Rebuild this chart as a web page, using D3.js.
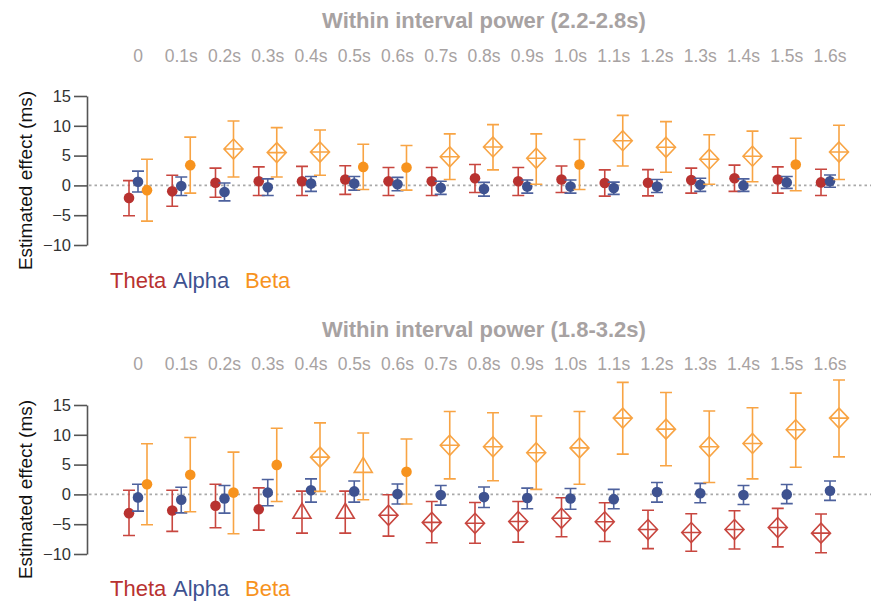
<!DOCTYPE html>
<html>
<head>
<meta charset="utf-8">
<script src="https://cdn.jsdelivr.net/npm/d3@7"></script>
<style>
  html, body { margin: 0; padding: 0; background: #fff; }
  svg { display: block; font-family: "Liberation Sans", Arial, Helvetica, sans-serif; }
</style>
</head>
<body>
<svg id="chart" width="871" height="603"></svg>
<script>
// Time lags (categories along the top of each panel)
const lags = ["0", "0.1s", "0.2s", "0.3s", "0.4s", "0.5s", "0.6s", "0.7s", "0.8s",
              "0.9s", "1.0s", "1.1s", "1.2s", "1.3s", "1.4s", "1.5s", "1.6s"];
const yTicks = [-10, -5, 0, 5, 10, 15];
const bands = ["Theta", "Alpha", "Beta"];
const panelTitles = ["Within interval power (2.2-2.8s)", "Within interval power (1.8-3.2s)"];

// Panel 1: 2.2-2.8 s window. c = n.s. (filled circle), d = significant (open diamond), t = trend (open triangle)
const thetaMeanA = [-2.1, -1.0, 0.45, 0.7, 0.7, 1.0, 0.7, 0.7, 1.2, 0.7, 1.0, 0.4, 0.45, 0.9, 1.2, 1.0, 0.5];
const thetaLoA   = [-5.1, -3.5, -2.0, -1.7, -1.7, -1.5, -1.7, -1.7, -1.2, -1.7, -1.2, -1.8, -1.75, -1.3, -1.0, -1.3, -1.7];
const thetaHiA   = [0.8, 1.7, 2.9, 3.1, 3.2, 3.3, 3.0, 3.0, 3.5, 3.0, 3.25, 2.6, 2.65, 2.9, 3.4, 3.1, 2.7];
const thetaSymA  = ["c","c","c","c","c","c","c","c","c","c","c","c","c","c","c","c","c"];

const alphaMeanA = [0.6, -0.1, -1.1, -0.3, 0.3, 0.3, 0.2, -0.4, -0.6, -0.2, -0.2, -0.45, -0.2, 0.1, 0.0, 0.5, 0.7];
const alphaLoA   = [-1.1, -1.7, -2.6, -1.7, -1.0, -0.8, -0.9, -1.5, -1.8, -1.3, -1.3, -1.5, -1.2, -1.0, -1.0, -0.5, -0.3];
const alphaHiA   = [2.4, 1.4, 0.4, 1.1, 1.5, 1.5, 1.35, 0.7, 0.5, 0.9, 0.9, 0.55, 1.0, 1.2, 1.1, 1.5, 1.75];
const alphaSymA  = ["c","c","c","c","c","c","c","c","c","c","c","c","c","c","c","c","c"];

const betaMeanA  = [-0.8, 3.4, 6.1, 5.5, 5.6, 3.1, 3.0, 4.8, 6.45, 4.55, 3.5, 7.5, 6.4, 4.4, 4.9, 3.5, 5.6];
const betaLoA    = [-6.0, -1.3, 1.4, 1.4, 1.7, -0.7, -0.8, 1.0, 2.6, 0.2, -0.7, 3.25, 2.2, 0.2, 0.6, -0.9, 1.0];
const betaHiA    = [4.4, 8.1, 10.8, 9.7, 9.3, 6.9, 6.7, 8.65, 10.2, 8.65, 7.7, 11.75, 10.7, 8.5, 9.1, 7.9, 10.1];
const betaSymA   = ["c","c","d","d","d","c","c","d","d","d","c","d","d","d","d","c","d"];

// Panel 2: 1.8-3.2 s window
const thetaMeanB = [-3.15, -2.7, -1.9, -2.5, -3.0, -3.0, -3.5, -4.7, -4.85, -4.55, -4.0, -4.6, -5.9, -6.4, -5.9, -5.55, -6.5];
const thetaLoB   = [-6.9, -6.2, -5.6, -6.0, -6.5, -6.5, -7.0, -8.1, -8.2, -8.0, -7.1, -7.9, -9.1, -9.55, -9.15, -8.8, -9.8];
const thetaHiB   = [0.7, 0.7, 1.7, 1.1, 0.55, 0.55, -0.05, -1.2, -1.35, -1.2, -0.55, -1.4, -2.65, -3.25, -2.75, -2.35, -3.3];
const thetaSymB  = ["c","c","c","c","t","t","d","d","d","d","d","d","d","d","d","d","d"];

const alphaMeanB = [-0.5, -0.9, -0.7, 0.3, 0.7, 0.5, 0.05, -0.1, -0.45, -0.6, -0.7, -0.8, 0.4, 0.2, -0.1, 0.0, 0.6];
const alphaLoB   = [-2.8, -3.1, -3.15, -1.9, -1.3, -1.3, -1.6, -1.8, -2.2, -2.4, -2.5, -2.4, -1.3, -1.4, -1.7, -1.55, -1.0];
const alphaHiB   = [1.7, 1.2, 1.5, 2.5, 2.6, 2.25, 1.75, 1.5, 1.25, 1.05, 1.0, 0.85, 2.0, 1.85, 1.5, 1.65, 2.25];
const alphaSymB  = ["c","c","c","c","c","c","c","c","c","c","c","c","c","c","c","c","c"];

const betaMeanB  = [1.7, 3.3, 0.3, 4.95, 6.25, 4.7, 3.8, 8.25, 8.0, 7.0, 7.8, 12.8, 10.95, 8.0, 8.55, 10.85, 12.8];
const betaLoB    = [-5.1, -2.9, -6.6, -1.2, 0.5, -0.9, -1.6, 2.6, 2.3, 0.85, 1.7, 6.75, 4.8, 2.0, 2.6, 4.55, 6.3];
const betaHiB    = [8.5, 9.55, 7.1, 11.1, 12.0, 10.3, 9.3, 13.9, 13.7, 13.15, 13.9, 18.8, 17.1, 14.0, 14.55, 17.0, 19.2];
const betaSymB   = ["c","c","c","c","d","t","c","d","d","d","d","d","d","d","d","d","d"];

// Styling
const markColor = { Theta: "#b83230", Alpha: "#3e5290", Beta: "#f7931e" };
const barColor  = { Theta: "#c8463f", Alpha: "#4d619d", Beta: "#f8a444" };
const bandShift = { Theta: -9, Alpha: 0, Beta: 9 };
const greyText = "#a7a2a2";

const svg = d3.select("#chart");

const x = d3.scalePoint().domain(lags).range([138, 830]);

function series(band, mean, lo, hi, sym) {
  return mean.map((m, i) => ({ band, lag: lags[i], mean: m, lo: lo[i], hi: hi[i], sym: sym[i] }));
}

const panels = [
  {
    title: panelTitles[0], titleY: 28, labelY: 62, yRange: [245, 96], legendY: 288,
    data: [].concat(
      series("Theta", thetaMeanA, thetaLoA, thetaHiA, thetaSymA),
      series("Alpha", alphaMeanA, alphaLoA, alphaHiA, alphaSymA),
      series("Beta",  betaMeanA,  betaLoA,  betaHiA,  betaSymA))
  },
  {
    title: panelTitles[1], titleY: 337, labelY: 370, yRange: [554, 405], legendY: 596,
    data: [].concat(
      series("Theta", thetaMeanB, thetaLoB, thetaHiB, thetaSymB),
      series("Alpha", alphaMeanB, alphaLoB, alphaHiB, alphaSymB),
      series("Beta",  betaMeanB,  betaLoB,  betaHiB,  betaSymB))
  }
];

const axisX = 87;
const capHalf = 6;

panels.forEach(p => {
  const y = d3.scaleLinear().domain([-10, 15]).range(p.yRange);
  const g = svg.append("g");

  // title
  g.append("text")
    .attr("x", 484).attr("y", p.titleY)
    .attr("text-anchor", "middle")
    .attr("font-size", 22).attr("font-weight", "bold")
    .attr("fill", greyText)
    .text(p.title);

  // lag labels
  g.selectAll("text.lag").data(lags).join("text")
    .attr("class", "lag")
    .attr("x", d => x(d)).attr("y", p.labelY)
    .attr("text-anchor", "middle")
    .attr("font-size", 17.5)
    .attr("fill", greyText)
    .text(d => d);

  // y axis
  const ax = g.append("g")
    .attr("transform", `translate(${axisX},0)`)
    .call(d3.axisLeft(y).tickValues(yTicks).tickSize(13).tickSizeOuter(0).tickPadding(3)
      .tickFormat(d3.format("d")));
  ax.select(".domain").attr("stroke", "#555").attr("stroke-width", 1.6);
  ax.selectAll(".tick line").attr("stroke", "#555").attr("stroke-width", 1.6);
  ax.selectAll(".tick text").attr("font-size", 16.5).attr("fill", "#333")
    .attr("font-family", "\"Liberation Sans\", Arial, sans-serif");

  // axis title
  const yMid = (p.yRange[0] + p.yRange[1]) / 2 + 10;
  g.append("text")
    .attr("transform", `translate(32,${yMid}) rotate(-90)`)
    .attr("text-anchor", "middle")
    .attr("font-size", 19)
    .attr("fill", "#111")
    .text("Estimated effect (ms)");

  // zero reference line
  g.append("line")
    .attr("x1", axisX + 2).attr("x2", 871)
    .attr("y1", y(0)).attr("y2", y(0))
    .attr("stroke", "#a9a9a9").attr("stroke-width", 1.6)
    .attr("stroke-dasharray", "2.5,3");

  // marks
  const mk = g.selectAll("g.mark").data(p.data).join("g")
    .attr("class", "mark")
    .attr("transform", d => `translate(${x(d.lag) + bandShift[d.band]},0)`);

  // error bars
  mk.append("path")
    .attr("d", d => {
      const t = y(d.hi), b = y(d.lo);
      return `M0,${t}V${b}M${-capHalf},${t}H${capHalf}M${-capHalf},${b}H${capHalf}`;
    })
    .attr("fill", "none")
    .attr("stroke", d => barColor[d.band])
    .attr("stroke-width", 1.6);

  // symbols
  mk.each(function(d) {
    const s = d3.select(this);
    const cy = y(d.mean);
    if (d.sym === "c") {
      s.append("circle").attr("cx", 0).attr("cy", cy).attr("r", 5.3)
        .attr("fill", markColor[d.band]);
    } else if (d.sym === "d") {
      s.append("path")
        .attr("d", `M0,${cy - 10}L9.5,${cy}L0,${cy + 10}L-9.5,${cy}Z M-9.5,${cy}H9.5`)
        .attr("fill", "none")
        .attr("stroke", barColor[d.band]).attr("stroke-width", 1.6);
    } else {
      s.append("path")
        .attr("d", `M0,${cy - 9}L9,${cy + 6}L-9,${cy + 6}Z`)
        .attr("fill", "none")
        .attr("stroke", barColor[d.band]).attr("stroke-width", 1.6);
    }
  });

  // band legend
  const legX = { Theta: 110, Alpha: 173, Beta: 245 };
  g.selectAll("text.legend").data(bands).join("text")
    .attr("class", "legend")
    .attr("x", d => legX[d]).attr("y", p.legendY)
    .attr("font-size", 22)
    .attr("fill", d => markColor[d])
    .text(d => d);
});
</script>
</body>
</html>
